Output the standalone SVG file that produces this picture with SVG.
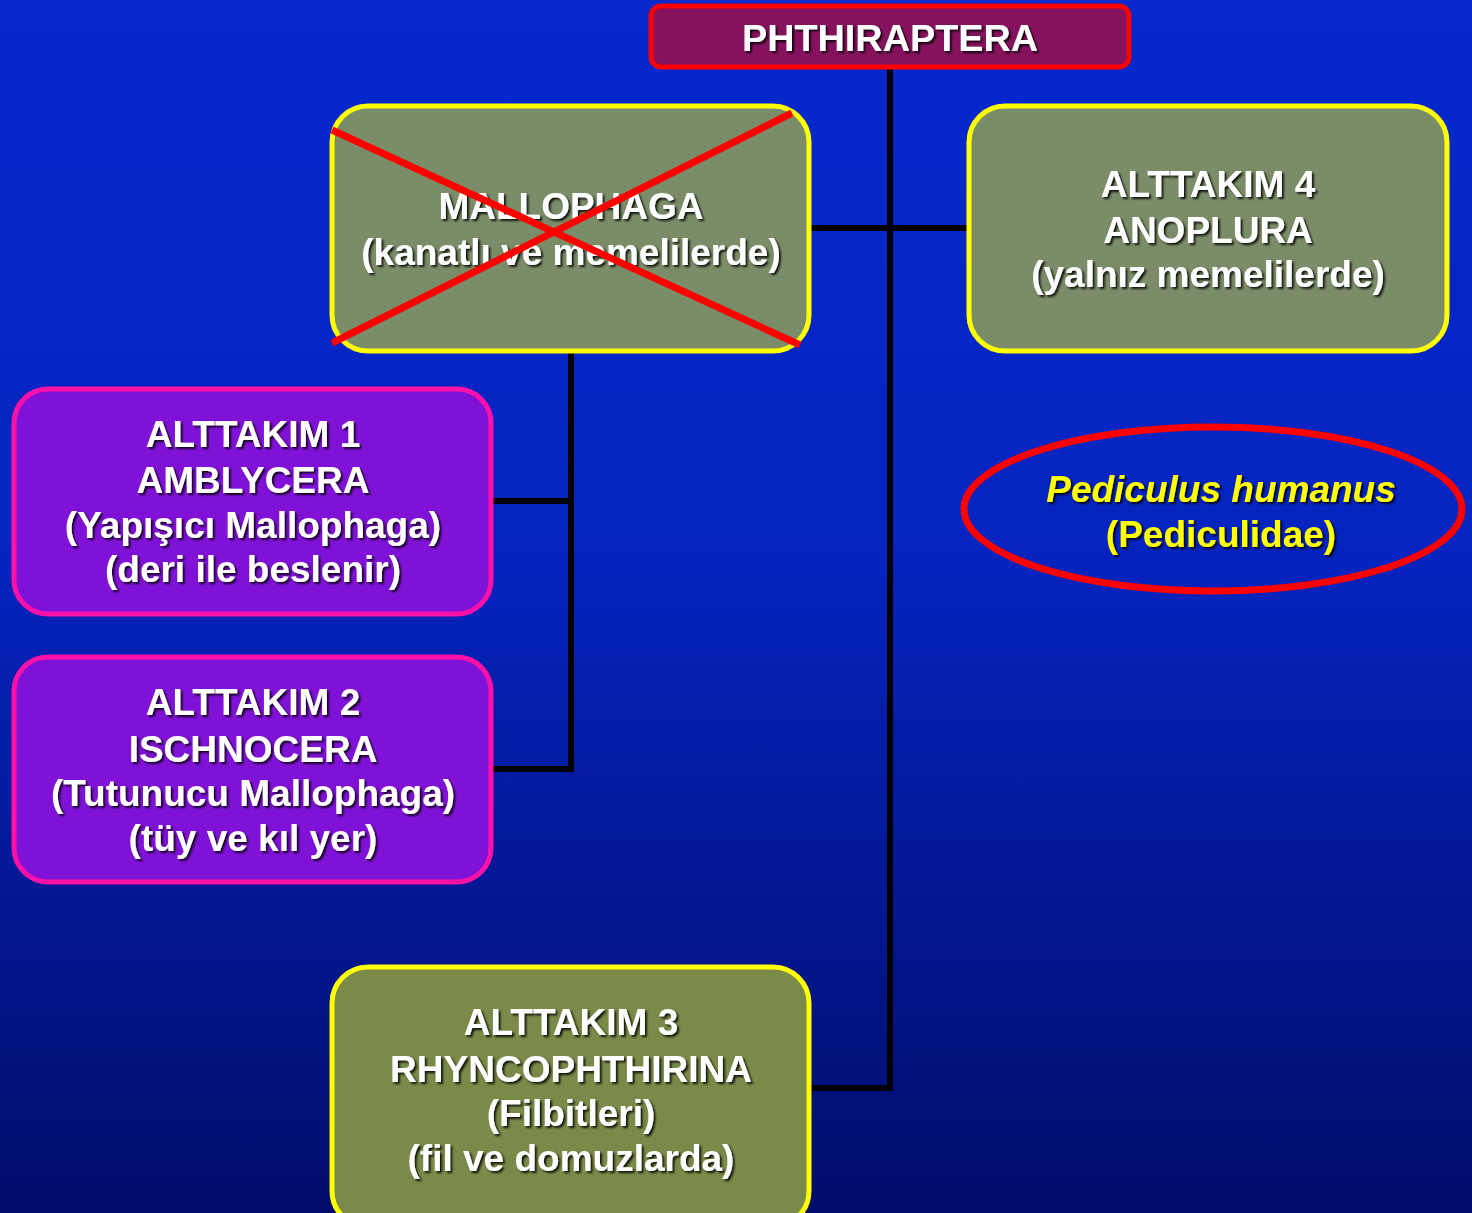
<svg xmlns="http://www.w3.org/2000/svg" width="1472" height="1213" viewBox="0 0 1472 1213">
<defs>
<linearGradient id="bg" x1="0" y1="0" x2="0" y2="1">
<stop offset="0" stop-color="#0628CC"/>
<stop offset="0.45" stop-color="#0524C0"/>
<stop offset="1" stop-color="#010C6A"/>
</linearGradient>
<filter id="sh" x="-10%" y="-30%" width="120%" height="160%">
<feDropShadow dx="2" dy="2" stdDeviation="0.8" flood-color="#000" flood-opacity="0.85"/>
</filter>
<style>
.t{font-family:"Liberation Sans",Arial,sans-serif;font-weight:bold;font-size:37px;fill:#fff;text-anchor:middle;filter:url(#sh)}
.y{fill:#FFFF00}
.g{fill:#7B8D68;stroke:#FFFF00;stroke-width:5}
.o{fill:#7A8A48;stroke:#FFFF00;stroke-width:5}
.p{fill:#8012D8;stroke:#FF10A8;stroke-width:5}
.c{stroke:#000;stroke-width:6;fill:none}
.x{stroke:#FF0000;stroke-width:7}
</style>
</defs>
<rect width="1472" height="1213" fill="url(#bg)"/>
<g id="connectors">
<path class="c" d="M890 68 V1088 H810"/>
<path class="c" d="M810 228 H968"/>
<path class="c" d="M571 351 V769 H492 M571 501 H492"/>
</g>
<g id="phthiraptera">
<rect x="651" y="6" width="478" height="61" rx="10" fill="#86125E" stroke="#FF0000" stroke-width="5"/>
<text class="t" x="890" y="51" style="font-size:37.8px">PHTHIRAPTERA</text>
</g>
<g id="mallophaga">
<rect class="g" x="332" y="106" width="477" height="245" rx="36"/>
<text class="t" x="571" y="219">MALLOPHAGA</text>
<text class="t" x="571" y="265">(kanatlı ve memelilerde)</text>
<line class="x" x1="332" y1="130" x2="800" y2="345"/>
<line class="x" x1="332" y1="343" x2="792" y2="113"/>
</g>
<g id="anoplura">
<rect class="g" x="969" y="106" width="478" height="245" rx="36"/>
<text class="t" x="1208" y="197">ALTTAKIM 4</text>
<text class="t" x="1208" y="243">ANOPLURA</text>
<text class="t" x="1208" y="287">(yalnız memelilerde)</text>
</g>
<g id="amblycera">
<rect class="p" x="14" y="389" width="477" height="225" rx="34"/>
<text class="t" x="253" y="447">ALTTAKIM 1</text>
<text class="t" x="253" y="493">AMBLYCERA</text>
<text class="t" x="253" y="538">(Yapışıcı Mallophaga)</text>
<text class="t" x="253" y="582">(deri ile beslenir)</text>
</g>
<g id="ischnocera">
<rect class="p" x="14" y="657" width="477" height="225" rx="34"/>
<text class="t" x="253" y="715">ALTTAKIM 2</text>
<text class="t" x="253" y="762">ISCHNOCERA</text>
<text class="t" x="253" y="806">(Tutunucu Mallophaga)</text>
<text class="t" x="253" y="851">(tüy ve kıl yer)</text>
</g>
<g id="rhyncophthirina">
<rect class="o" x="332" y="967" width="477" height="260" rx="36"/>
<text class="t" x="571" y="1035">ALTTAKIM 3</text>
<text class="t" x="571" y="1082">RHYNCOPHTHIRINA</text>
<text class="t" x="571" y="1126">(Filbitleri)</text>
<text class="t" x="571" y="1171">(fil ve domuzlarda)</text>
</g>
<g id="pediculus">
<ellipse cx="1213" cy="509" rx="249" ry="82" fill="none" stroke="#FF0000" stroke-width="7"/>
<text class="t y" x="1221" y="502" font-style="italic">Pediculus humanus</text>
<text class="t y" x="1221" y="547">(Pediculidae)</text>
</g>
</svg>
